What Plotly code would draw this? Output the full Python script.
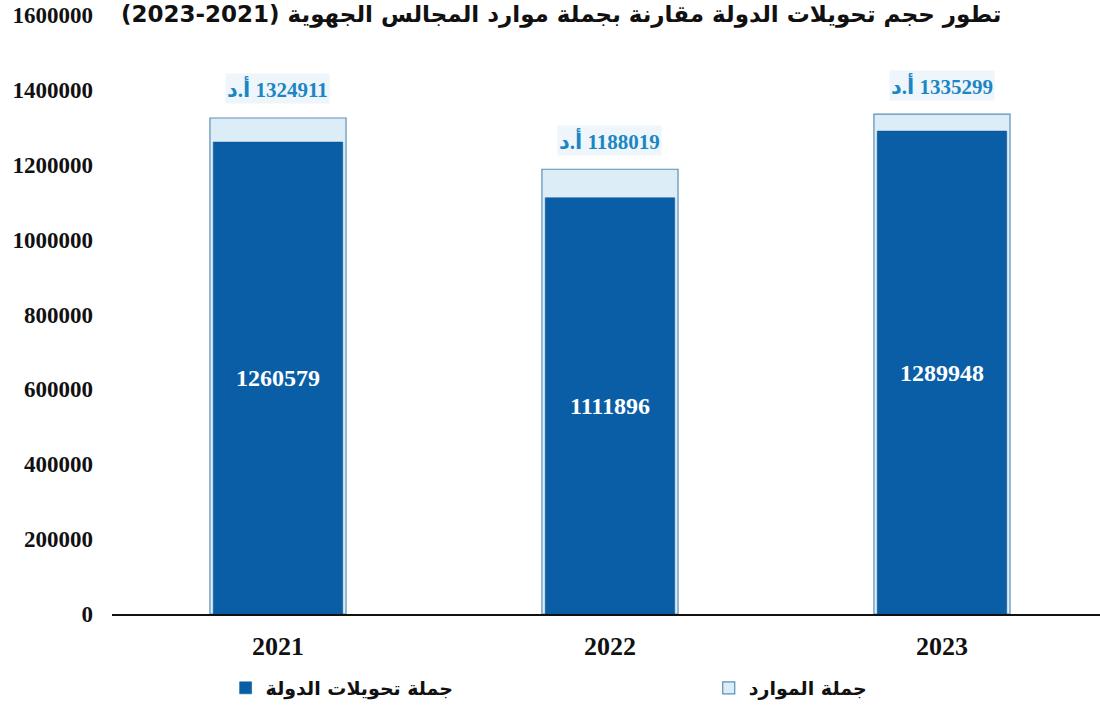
import plotly.graph_objects as go

# Data
years = ["2021", "2022", "2023"]
state_transfers = [1260579, 1111896, 1289948]      # جملة تحويلات الدولة
total_resources = [1324911, 1188019, 1335299]      # جملة الموارد
y_ticks = [0, 200000, 400000, 600000, 800000, 1000000, 1200000, 1400000, 1600000]

title_text = "تطور حجم تحويلات الدولة مقارنة بجملة موارد المجالس الجهوية (2021-2023)"
unit_text = "أ.د"
name_transfers = "جملة تحويلات الدولة"
name_resources = "جملة الموارد"

RLE, PDF = "\u202b", "\u202c"

SERIF = "Liberation Serif, Times New Roman, DejaVu Sans, serif"
ARABIC = "DejaVu Sans, Arial, sans-serif"

fig = go.Figure()

# Total resources: light bar drawn behind
fig.add_trace(go.Bar(
    x=years, y=total_resources, name=name_resources,
    width=0.41, legend="legend2",
    marker=dict(color="#dcedf8", line=dict(color="#5a8fb9", width=1.2)),
    hoverinfo="x+y",
))

# State transfers: dark bar in front, value written in the middle
fig.add_trace(go.Bar(
    x=years, y=state_transfers, name=name_transfers,
    width=0.39, legend="legend",
    marker=dict(color="#0a5ea6", line=dict(color="#0a4f8a", width=0.5)),
    text=[str(v) for v in state_transfers],
    textposition="inside", insidetextanchor="middle",
    textfont=dict(family=SERIF, size=24, color="white", weight="bold"),
    hoverinfo="x+y",
))

# Resource totals written above the light bars
for i, v in enumerate(total_resources):
    fig.add_annotation(
        x=i, y=v, xref="x", yref="y",
        text=f"{RLE}{v} {unit_text}{PDF}",
        showarrow=False, yanchor="middle", yshift=29,
        font=dict(family=SERIF, size=21, color="#1c86c2", weight="bold"),
        bgcolor="#eef6fb",
    )

# Title
fig.add_annotation(
    x=0.455, y=1.0, xref="paper", yref="paper",
    text=f"{RLE}{title_text}{PDF}",
    showarrow=False, yanchor="middle", yshift=1,
    font=dict(family=ARABIC, size=23, color="#111111", weight="bold"),
)

legend_font = dict(family=ARABIC, size=19, color="#111111", weight="bold")

fig.update_layout(
    width=1100, height=707,
    margin=dict(l=112, r=0, t=15, b=90),
    paper_bgcolor="white", plot_bgcolor="white",
    barmode="overlay",
    showlegend=True,
    legend=dict(
        orientation="h", x=0.115, y=-0.124, xanchor="left", yanchor="middle",
        font=legend_font, bgcolor="rgba(0,0,0,0)",
    ),
    legend2=dict(
        orientation="h", x=0.604, y=-0.124, xanchor="left", yanchor="middle",
        font=legend_font, bgcolor="rgba(0,0,0,0)",
    ),
    xaxis=dict(
        type="category", range=[-0.5, 2.476], showgrid=False, zeroline=False,
        showline=True, linecolor="#111111", linewidth=2,
        tickfont=dict(family=SERIF, size=26, color="#111111", weight="bold"),
        ticks="", ticklabelstandoff=8,
    ),
    yaxis=dict(
        range=[0, 1600000], tickvals=y_ticks, tickformat="d",
        showgrid=False, zeroline=False, showline=False,
        tickfont=dict(family=SERIF, size=23, color="#111111", weight="bold"),
        ticks="", ticklabelstandoff=18,
    ),
)

fig.write_html("out.html")
